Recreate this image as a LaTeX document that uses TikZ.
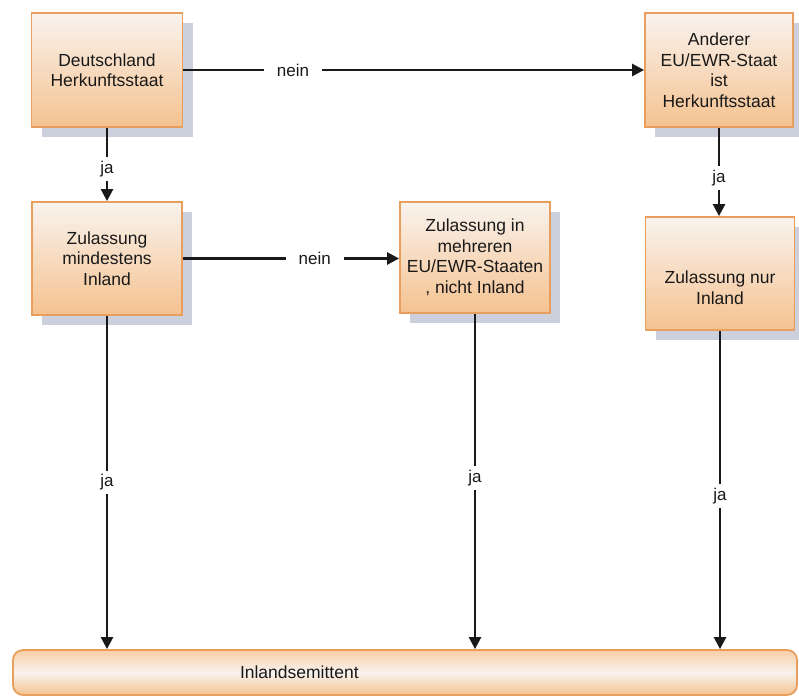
\documentclass[tikz,border=0pt]{standalone}
\usepackage{fontspec}
\setmainfont{Liberation Sans}
\usetikzlibrary{arrows.meta,shadows}
\definecolor{boxborder}{RGB}{232,158,92}
\definecolor{boxtop}{RGB}{249,243,238}
\definecolor{boxbottom}{RGB}{245,194,144}
\definecolor{shadowcol}{RGB}{204,208,220}
\definecolor{txt}{RGB}{25,25,25}
\tikzset{
  flowbox/.style={draw=boxborder, line width=1.8pt, top color=boxtop, bottom color=boxbottom,
    align=center, text=txt, font=\fontsize{17.5}{20.5}\selectfont, inner sep=2pt,
    drop shadow={shadow xshift=10pt, shadow yshift=-10pt, fill=shadowcol, opacity=1}},
  boxtext/.style={align=center, text=txt, font=\fontsize{17.5}{20.5}\selectfont, inner sep=2pt},
  barbox/.style={draw=boxborder, line width=1.8pt, rounded corners=10pt,
    top color=boxbottom!80!white, bottom color=boxbottom, middle color=boxtop,
    text=txt, font=\fontsize{17.5}{20.5}\selectfont},
  conn/.style={line width=2.5pt, black!90, -{Triangle[length=12pt,width=12pt]}},
  lbl/.style={fill=white, text=txt, font=\fontsize{17}{20}\selectfont, inner xsep=3pt, inner ysep=4pt},
  hlbl/.style={fill=white, text=txt, font=\fontsize{17}{20}\selectfont, inner xsep=13pt, inner ysep=2pt}
}
\begin{document}
\begin{tikzpicture}[x=1pt,y=-1pt]
\useasboundingbox[fill=white] (0,0) rectangle (799,699);
\node[flowbox, minimum width=151pt, minimum height=114pt] (b1) at (107,70) {Deutschland\\Herkunftsstaat};
\node[flowbox, minimum width=148pt, minimum height=114pt] (b2) at (719,70) {Anderer\\EU/EWR-Staat\\ist\\Herkunftsstaat};
\node[flowbox, minimum width=150pt, minimum height=113pt] (b3) at (107,258.5) {Zulassung\\mindestens\\Inland};
\node[flowbox, minimum width=150pt, minimum height=111pt] (b4) at (475,257.5) {Zulassung in\\mehreren\\EU/EWR-Staaten\\, nicht Inland};
\node[flowbox, minimum width=149pt, minimum height=113pt] (b5) at (720,273.5) {};
\node[boxtext] (b5t) at ([yshift=-14pt]b5.center) {Zulassung nur\\Inland};
\node[barbox, minimum width=784pt, minimum height=45pt, inner xsep=227pt, text width=330pt, align=left] (bar) at (405,672.5) {Inlandsemittent};

\draw[conn] (b1.east) -- node[hlbl, pos=0.238] {nein} (b2.west |- b1.east);
\draw[conn] (b1.south) -- node[lbl, pos=0.56] {ja} (b3.north);
\draw[conn] (b2.south) -- node[lbl, pos=0.57] {ja} (b5.north -| b2.south);
\draw[conn] (b3.east) -- node[hlbl, pos=0.61] {nein} (b4.west |- b3.east);
\draw[conn] (b3.south) -- node[lbl, pos=0.5] {ja} (b3.south |- bar.north);
\draw[conn] (b4.south) -- node[lbl, pos=0.49] {ja} (b4.south |- bar.north);
\draw[conn] (b5.south) -- node[lbl, pos=0.52] {ja} (b5.south |- bar.north);
\end{tikzpicture}
\end{document}
